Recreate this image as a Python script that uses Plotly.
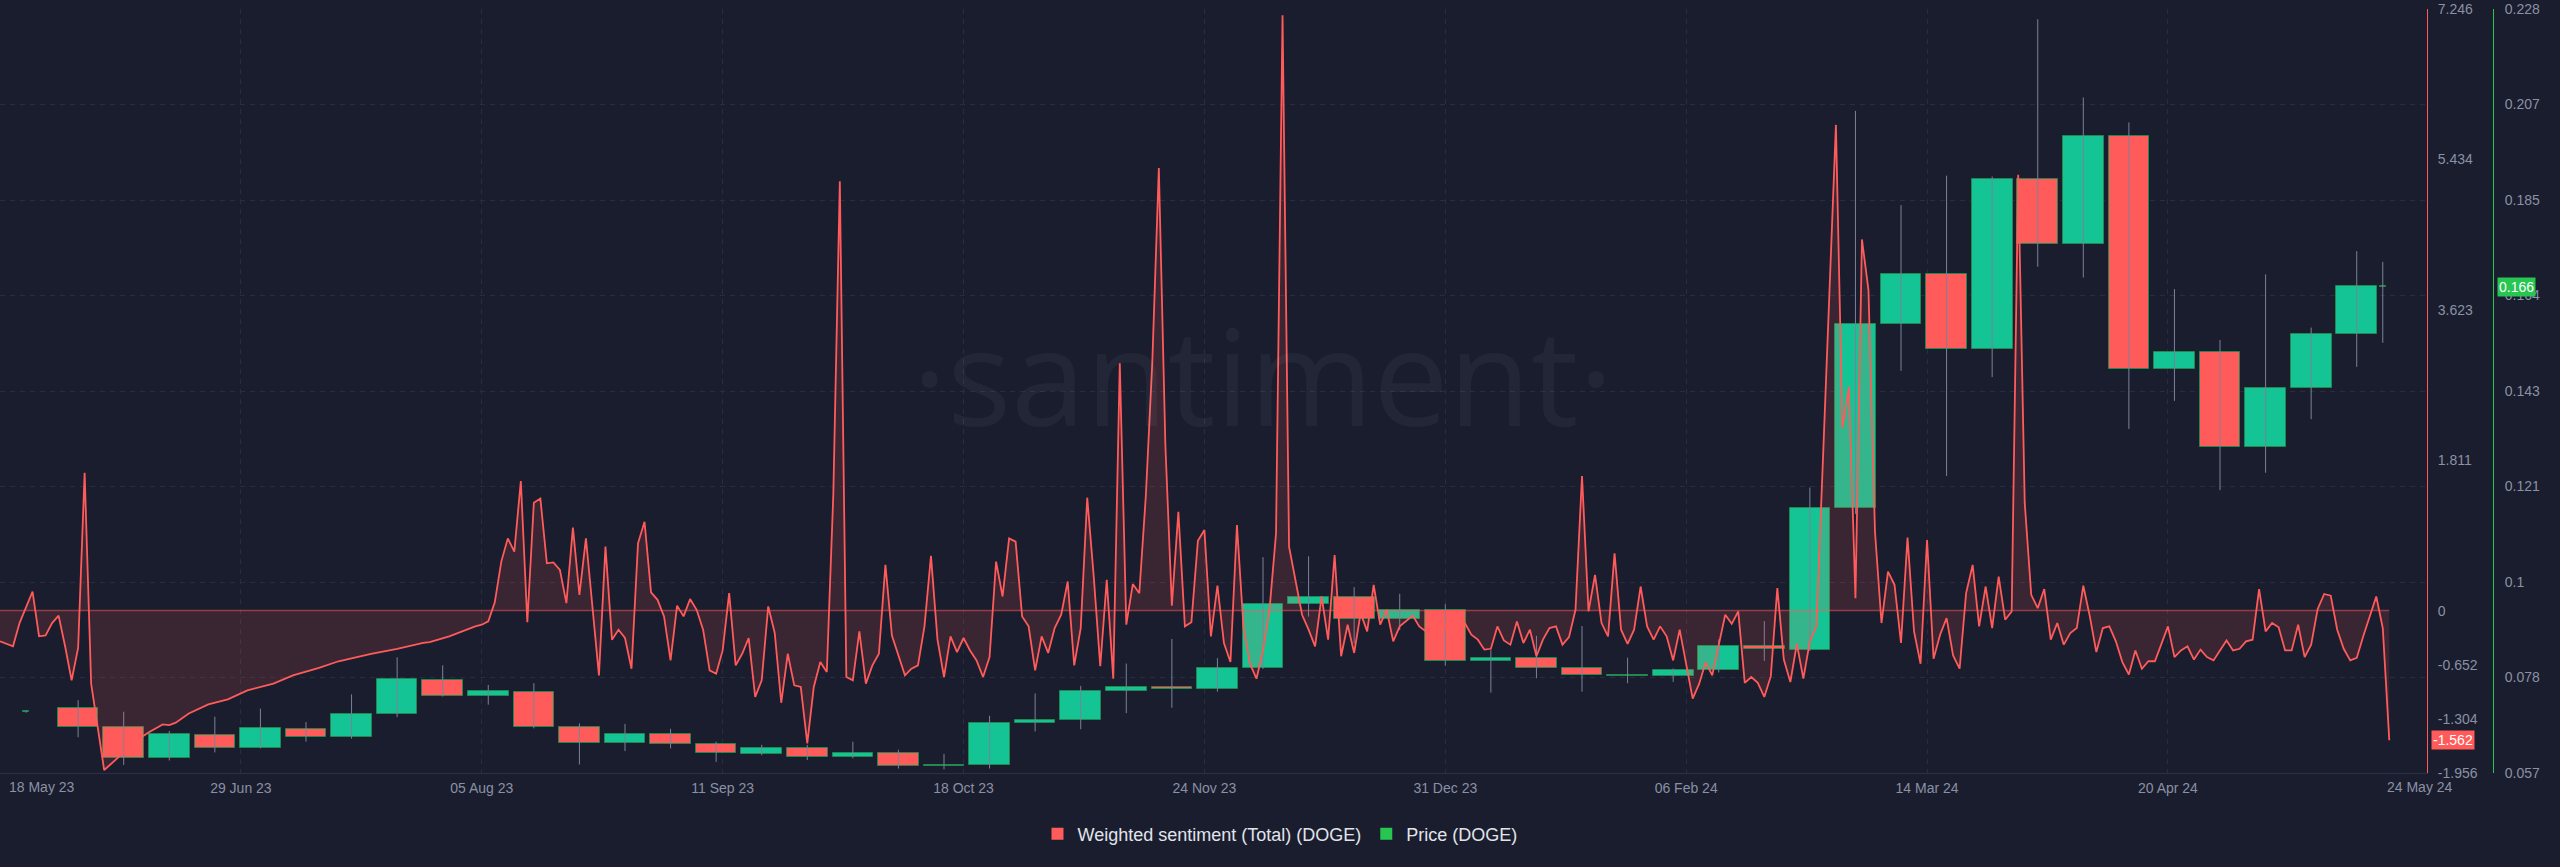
import pandas as pd
import numpy as np
import plotly.graph_objects as go

# ---------------- data ----------------
START = pd.Timestamp("2023-05-23")

# Weighted sentiment (Total) (DOGE): day offsets from START and values (line vertices)
sent_day = [0, 2, 3, 5, 6, 7, 8, 9, 10, 11, 12, 13, 14, 16,
            18, 21, 23, 25, 26, 27, 29, 32, 35, 38, 42, 45, 49, 52, 57, 61, 65, 66, 69, 71, 73, 74,
            75, 76, 77, 78, 79, 80, 81, 82, 83, 84, 85, 86, 87, 88, 89, 90, 91, 92, 93, 94, 95, 96,
            97, 98, 99, 100, 101, 102, 103, 104, 105, 106, 107, 108, 109, 110, 111, 112, 113, 114,
            115, 116, 117, 118, 119, 120, 121, 122, 123, 124, 125, 126, 127, 128, 129, 130, 131,
            132, 133, 134, 135, 136, 137, 138,
            139, 140, 141, 142, 143, 144, 145, 146, 147, 148, 149, 150, 151, 152, 153, 154, 155,
            156, 157, 158, 159, 160, 161, 162, 163, 164, 165, 166, 167, 168, 169, 170, 171, 172,
            173, 174, 175, 176, 177, 178, 179, 180, 181, 182, 183, 184, 185, 186, 187, 188, 189,
            190, 191, 192, 193, 194, 195, 196, 197, 198, 199, 200, 201, 202, 203, 204, 205, 206,
            207, 208, 209, 210, 211, 212, 213, 214, 215, 216, 217, 218, 219, 220, 221, 222, 223,
            224, 225, 226, 227, 228, 229, 230, 231, 232, 233, 234, 235, 236, 237, 238, 239, 240,
            241, 242, 243, 244, 245, 246, 247, 248, 249, 250, 251, 252, 253, 254, 255, 256, 257,
            258, 259, 260, 261, 262, 263, 264, 265, 266, 267, 268, 269, 270, 271, 272, 273, 274,
            275, 276, 277, 278, 279, 280, 281, 282, 283, 284, 285, 286, 287, 288, 289, 290, 291,
            292, 293, 294, 295, 296, 297, 298, 299, 300, 301, 302, 303, 304, 305, 306, 307, 308,
            309, 310, 311, 312, 313, 314, 315, 316, 317, 318, 319, 320, 321, 322, 323, 324, 325,
            326, 327, 328, 329, 330, 331, 332, 333, 334, 335, 336, 337, 338, 339, 340, 341, 342,
            343, 344, 345, 346, 347, 348, 349, 350, 351, 352, 353, 354, 355, 356, 357, 358, 359,
            360, 361, 362, 363, 364, 365, 366, 367]
sent_val = [-0.37, -0.43, -0.15, 0.23, -0.31, -0.30, -0.15, -0.06, -0.43, -0.84, -0.45, 1.66, -0.88, -1.92,
            -1.78, -1.56, -1.46, -1.37, -1.38, -1.35, -1.24, -1.13, -1.07, -0.96, -0.88, -0.78, -0.69,
            -0.61, -0.52, -0.46, -0.39, -0.38, -0.31, -0.25, -0.19, -0.17,
            -0.13, 0.10, 0.59, 0.87, 0.71, 1.56, -0.14, 1.30, 1.35, 0.57, 0.58, 0.49, 0.09, 1.00, 0.19,
            0.87, 0.09, -0.78, 0.77, -0.35, -0.23, -0.33,
            -0.70, 0.81, 1.07, 0.22, 0.13, -0.07, -0.60, 0.06, -0.07, 0.14, 0.01, -0.23, -0.72, -0.76,
            -0.48, 0.21, -0.66, -0.52,
            -0.33, -1.04, -0.84, 0.05, -0.27, -1.11, -0.52, -0.90, -0.92, -1.60, -0.92, -0.62, -0.74,
            1.40, 5.17, -0.80, -0.84,
            -0.25, -0.88, -0.66, -0.52, 0.55, -0.30, -0.55,
            -0.78, -0.70, -0.66, -0.19, 0.66, -0.35, -0.80, -0.31, -0.50, -0.33, -0.48, -0.60, -0.80,
            -0.56, 0.59, 0.17, 0.87,
            0.83, -0.07, -0.19, -0.72, -0.31, -0.51, -0.21, -0.05, 0.35, -0.66, -0.21, 1.36, 0.41,
            -0.67, 0.37, -0.82, 2.98,
            -0.17, 0.32, 0.21, 1.38, 3.00, 5.33, 2.00, 0.06, 1.19, -0.19, -0.14, 0.84, 0.97, -0.31,
            0.30, -0.39, -0.62,
            1.03, -0.20, -0.64, -0.82, -0.48, 0.01, 0.93, 7.17, 0.77, 0.35, -0.05, -0.23, -0.43, 0.17,
            -0.35, 0.67, -0.55,
            -0.17, -0.51, -0.03, -0.25, 0.31, -0.17, 0.01, -0.37, -0.19, -0.12, -0.06, -0.19, -0.25,
            -0.15, -0.10, -0.20, -0.12,
            -0.20, -0.15, -0.29, -0.35, -0.47, -0.46, -0.19, -0.36, -0.41, -0.13, -0.39, -0.23, -0.55,
            -0.35, -0.21, -0.19, -0.41,
            -0.32, 0.01, 1.62, -0.01, 0.43, -0.15, -0.31, 0.69, -0.23, -0.40, -0.23, 0.29, -0.19,
            -0.35, -0.19, -0.31, -0.60,
            -0.23, -0.64, -1.06, -0.88, -0.62, -0.78, -0.40, -0.05, -0.16, -0.01, -0.87, -0.80, -0.87,
            -1.04, -0.79, 0.27, -0.59,
            -0.86, -0.40, -0.82, -0.37, -0.19, 1.80, 3.80, 5.85, 2.20, 2.70, 0.15, 4.47, 3.86, 0.95,
            -0.15, 0.47, 0.31,
            -0.39, 0.88, -0.25, -0.64, 0.85, -0.58, -0.29, -0.09, -0.54, -0.70, 0.21, 0.55, -0.19,
            0.29, -0.21, 0.41, -0.11,
            -0.01, 5.25, 1.30, 0.19, 0.03, 0.26, -0.35, -0.15, -0.41, -0.27, -0.21, 0.30, -0.07,
            -0.50, -0.21, -0.19, -0.37,
            -0.62, -0.77, -0.48, -0.70, -0.61, -0.61, -0.39, -0.19, -0.56, -0.48, -0.43, -0.59,
            -0.47, -0.56, -0.60, -0.48, -0.36,
            -0.48, -0.46, -0.37, -0.35, 0.26, -0.25, -0.15, -0.20, -0.48, -0.48, -0.17, -0.56,
            -0.41, 0.02, 0.20, 0.18, -0.23,
            -0.46, -0.60, -0.57, -0.31, -0.07, 0.17, -0.21, -1.562]

# Price (DOGE) weekly candles
candle_dates = ["2023-05-27",
                "2023-06-04", "2023-06-11", "2023-06-18", "2023-06-25", "2023-07-02", "2023-07-09",
                "2023-07-16", "2023-07-23", "2023-07-30", "2023-08-06", "2023-08-13", "2023-08-20",
                "2023-08-27", "2023-09-03", "2023-09-10", "2023-09-17", "2023-09-24", "2023-10-01",
                "2023-10-08", "2023-10-15", "2023-10-22", "2023-10-29", "2023-11-05", "2023-11-12",
                "2023-11-19", "2023-11-26", "2023-12-03", "2023-12-10", "2023-12-17", "2023-12-24",
                "2023-12-31", "2024-01-07", "2024-01-14", "2024-01-21", "2024-01-28", "2024-02-04",
                "2024-02-11", "2024-02-18", "2024-02-25", "2024-03-03", "2024-03-10", "2024-03-17",
                "2024-03-24", "2024-03-31", "2024-04-07", "2024-04-14", "2024-04-21", "2024-04-28",
                "2024-05-05", "2024-05-12", "2024-05-19",
                "2024-05-23"]
opens = [0.0707,
         0.0716, 0.0672, 0.0604, 0.0656, 0.0627, 0.0669, 0.0651, 0.0701, 0.0778, 0.0742, 0.0752,
         0.0672, 0.0638, 0.0658, 0.0636, 0.0613, 0.0626, 0.0606, 0.0615, 0.0585, 0.0587, 0.0683,
         0.0689, 0.0754, 0.0763, 0.0758, 0.0806, 0.0949, 0.0963, 0.0914, 0.0934, 0.0820, 0.0828,
         0.0804, 0.0789, 0.0787, 0.0801, 0.0854, 0.0845, 0.1164, 0.1576, 0.1688, 0.1520, 0.1899,
         0.1753, 0.1996, 0.1475, 0.1512, 0.1300, 0.1431, 0.1553,
         0.1660]
highs = [0.0709,
         0.0733, 0.0707, 0.0664, 0.0696, 0.0714, 0.0684, 0.0746, 0.0829, 0.0811, 0.0767, 0.0771,
         0.0681, 0.0680, 0.0669, 0.0640, 0.0633, 0.0633, 0.0640, 0.0622, 0.0613, 0.0698, 0.0748,
         0.0765, 0.0815, 0.0870, 0.0827, 0.1053, 0.1055, 0.0986, 0.0971, 0.0948, 0.0845, 0.0877,
         0.0899, 0.0828, 0.0804, 0.0869, 0.0910, 0.1209, 0.2052, 0.1841, 0.1907, 0.1905, 0.2257,
         0.2082, 0.2026, 0.1653, 0.1539, 0.1686, 0.1567, 0.1738,
         0.1714]
lows = [0.0705,
        0.0650, 0.0588, 0.0598, 0.0616, 0.0625, 0.0640, 0.0647, 0.0695, 0.0741, 0.0723, 0.0670,
        0.0589, 0.0619, 0.0625, 0.0595, 0.0610, 0.0599, 0.0603, 0.0580, 0.0578, 0.0580, 0.0663,
        0.0668, 0.0704, 0.0716, 0.0752, 0.0803, 0.0920, 0.0860, 0.0890, 0.0810, 0.0750, 0.0782,
        0.0752, 0.0771, 0.0774, 0.0795, 0.0821, 0.0843, 0.1150, 0.1470, 0.1235, 0.1456, 0.1703,
        0.1679, 0.1340, 0.1403, 0.1203, 0.1242, 0.1362, 0.1479,
        0.1533]
closes = [0.0708,
          0.0674, 0.0604, 0.0657, 0.0627, 0.0670, 0.0651, 0.0701, 0.0780, 0.0742, 0.0753, 0.0672,
          0.0638, 0.0658, 0.0636, 0.0614, 0.0627, 0.0605, 0.0615, 0.0586, 0.0587, 0.0683, 0.0688,
          0.0754, 0.0763, 0.0758, 0.0806, 0.0948, 0.0963, 0.0914, 0.0934, 0.0821, 0.0828, 0.0805,
          0.0790, 0.0787, 0.0801, 0.0854, 0.0847, 0.1164, 0.1576, 0.1688, 0.1520, 0.1899, 0.1753,
          0.1996, 0.1475, 0.1512, 0.1300, 0.1431, 0.1553, 0.1659,
          0.1658]

# axis ticks
price_tick_labels = ["0.057", "0.078", "0.1", "0.121", "0.143", "0.164", "0.185", "0.207", "0.228"]
sent_ticks = [7.246, 5.434, 3.623, 1.811, 0, -0.652, -1.304, -1.956]
sent_tick_labels = ["7.246", "5.434", "3.623", "1.811", "0", "-0.652", "-1.304", "-1.956"]
x_tick_dates = ["2023-06-29", "2023-08-05", "2023-09-11", "2023-10-18", "2023-11-24",
                "2023-12-31", "2024-02-06", "2024-03-14", "2024-04-20"]
x_tick_labels = ["29 Jun 23", "05 Aug 23", "11 Sep 23", "18 Oct 23", "24 Nov 23",
                 "31 Dec 23", "06 Feb 24", "14 Mar 24", "20 Apr 24"]
first_label = "18 May 23"
last_label = "24 May 24"

# ---------------- styles ----------------
BG = "#1a1d2d"
GRID = "#292d40"
RED = "#ff5b5b"
TEAL = "#14c494"
GREEN = "#27c650"
TICK = "#8a91a5"
FONT = "Liberation Sans, Arial, sans-serif"

W, H = 2560, 867
PLOT_R = 2427      # right edge of plotting area (sentiment axis)
PAPER_R = 2493     # price axis position
TOP, BOTTOM = 9, 773
DAY_MS = 86400000

sent_dates = START + pd.to_timedelta(sent_day, unit="D")
cd = pd.to_datetime(candle_dates)
full_w = 6.25 * DAY_MS
small_w = 1.0 * DAY_MS
widths = [small_w] + [full_w] * (len(candle_dates) - 2) + [small_w]
body_colors = [TEAL if c >= o else RED for o, c in zip(opens, closes)]

fig = go.Figure()

# wicks
wx, wy = [], []
for d, lo, hi in zip(cd, lows, highs):
    wx += [d, d, None]
    wy += [lo, hi, None]
fig.add_trace(go.Scatter(x=wx, y=wy, mode="lines", line=dict(color="#7a8299", width=1),
                         yaxis="y", showlegend=False, hoverinfo="skip"))
# bodies
fig.add_trace(go.Bar(x=cd, y=[c - o for o, c in zip(opens, closes)], base=opens, width=widths,
                     marker=dict(color=body_colors, line=dict(color="#23874f", width=1)),
                     yaxis="y", showlegend=False, hoverinfo="skip"))

# sentiment zero line and line with fill
fig.add_trace(go.Scatter(x=[sent_dates[0], sent_dates[-1]], y=[0, 0], mode="lines",
                         line=dict(color="rgba(255,91,91,0.5)", width=1.5),
                         yaxis="y2", xaxis="x", showlegend=False, hoverinfo="skip"))
fig.add_trace(go.Scatter(x=sent_dates, y=sent_val, mode="lines",
                         line=dict(color=RED, width=1.8), fill="tozeroy",
                         fillcolor="rgba(255,91,91,0.14)",
                         yaxis="y2", xaxis="x", showlegend=False, hoverinfo="skip"))

# legend entries
fig.add_trace(go.Scatter(x=[None], y=[None], mode="markers", yaxis="y",
                         marker=dict(symbol="square", size=12, color=RED),
                         name="Weighted sentiment (Total) (DOGE)"))
fig.add_trace(go.Scatter(x=[None], y=[None], mode="markers", yaxis="y",
                         marker=dict(symbol="square", size=12, color=GREEN),
                         name="Price (DOGE)"))

plot_h = BOTTOM - TOP
fig.update_layout(
    width=W, height=H, autosize=False,
    margin=dict(l=0, r=W - PAPER_R, t=TOP, b=H - BOTTOM, pad=0),
    paper_bgcolor=BG, plot_bgcolor=BG,
    font=dict(family=FONT, color=TICK, size=14),
    showlegend=True,
    legend=dict(orientation="h", x=1280 / PAPER_R, xanchor="center",
                y=-61 / plot_h, yanchor="middle",
                font=dict(size=18, color="#e1e4ec"), bgcolor="rgba(0,0,0,0)",
                itemwidth=30, tracegroupgap=0),
    xaxis=dict(type="date", domain=[0, PLOT_R / PAPER_R],
               range=["2023-05-23", "2024-05-29 19:00"],
               tickvals=x_tick_dates, ticktext=x_tick_labels,
               showgrid=True, gridcolor=GRID, griddash="5px,5px", gridwidth=1,
               showline=True, linecolor="#2c3044", linewidth=1,
               zeroline=False, ticks="", ticklabelstandoff=2,
               tickfont=dict(size=14, color=TICK)),
    yaxis=dict(range=[0.057, 0.228], side="right", anchor="free", position=1.0,
               tickvals=list(np.linspace(0.057, 0.228, 9)), ticktext=price_tick_labels,
               showgrid=True, gridcolor=GRID, griddash="5px,5px", gridwidth=1,
               showline=True, linecolor=GREEN, linewidth=1, zeroline=False,
               ticks="", ticklabelstandoff=8, tickfont=dict(size=14, color=TICK)),
    yaxis2=dict(range=[-1.956, 7.246], overlaying="y", side="right", anchor="x",
                tickvals=sent_ticks, ticktext=sent_tick_labels,
                showgrid=False, showline=True, linecolor=RED, linewidth=1, zeroline=False,
                ticks="", ticklabelstandoff=7, tickfont=dict(size=14, color=TICK)),
    bargap=0, barmode="overlay",
)

annotations = [
    # watermark
    dict(text="·santiment·", xref="paper", yref="paper", x=1263 / PAPER_R,
         y=(BOTTOM - 374) / plot_h, xanchor="center", yanchor="middle", showarrow=False,
         font=dict(family="Open Sans, sans-serif", size=134, color="rgba(255,255,255,0.045)",
                   weight=400)),
    # edge x labels
    dict(text=first_label, xref="paper", yref="paper", x=7 / PAPER_R, y=-14 / plot_h,
         xanchor="left", yanchor="middle", showarrow=False, font=dict(size=14, color=TICK)),
    dict(text=last_label, xref="paper", yref="paper", x=2420 / PAPER_R, y=-14 / plot_h,
         xanchor="center", yanchor="middle", showarrow=False, font=dict(size=14, color=TICK)),
    # last value boxes
    dict(text=f"{sent_val[-1]:.3f}", xref="paper", yref="y2", x=2431 / PAPER_R, y=sent_val[-1],
         xanchor="left", yanchor="middle", showarrow=False, bgcolor=RED, borderpad=1,
         font=dict(size=14, color="#ffffff")),
    dict(text=f"{closes[-1]:.3f}", xref="paper", yref="y", x=2497 / PAPER_R, y=closes[-1],
         xanchor="left", yanchor="middle", showarrow=False, bgcolor=GREEN, borderpad=1,
         font=dict(size=14, color="#ffffff")),
]
fig.update_layout(annotations=annotations)

fig.write_html("out.html")
